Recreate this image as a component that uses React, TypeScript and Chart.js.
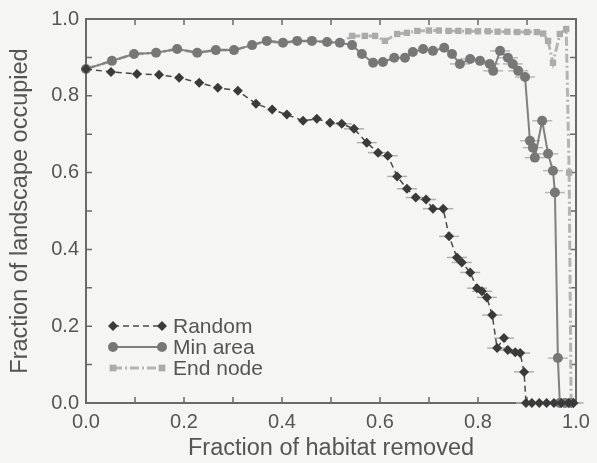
import React, { useEffect, useRef } from 'react';
import { Chart, registerables } from 'chart.js';

Chart.register(...registerables);

const xTitle = 'Fraction of habitat removed';
const yTitle = 'Fraction of landscape occupied';
const seriesLabels = ['Random', 'Min area', 'End node'];
const tickLabels = ['0.0', '0.2', '0.4', '0.6', '0.8', '1.0'];

const randomX = [0, 0.051, 0.104, 0.149, 0.19, 0.231, 0.269, 0.31, 0.347, 0.38, 0.41, 0.443, 0.471, 0.498, 0.522, 0.547, 0.573, 0.596, 0.616, 0.635, 0.655, 0.673, 0.694, 0.708, 0.729, 0.741, 0.757, 0.767, 0.784, 0.798, 0.808, 0.818, 0.829, 0.839, 0.853, 0.861, 0.876, 0.886, 0.894, 0.898, 0.91, 0.925, 0.94, 0.955, 0.97, 0.985, 0.995];
const randomY = [0.87, 0.862, 0.857, 0.855, 0.847, 0.834, 0.821, 0.813, 0.779, 0.764, 0.751, 0.735, 0.74, 0.73, 0.727, 0.714, 0.678, 0.652, 0.644, 0.59, 0.558, 0.535, 0.53, 0.506, 0.506, 0.434, 0.379, 0.366, 0.34, 0.299, 0.291, 0.275, 0.229, 0.143, 0.169, 0.138, 0.132, 0.13, 0.081, 0, 0, 0, 0, 0, 0, 0, 0];

const minAreaX = [0, 0.053, 0.098, 0.143, 0.186, 0.227, 0.265, 0.302, 0.339, 0.369, 0.402, 0.431, 0.461, 0.492, 0.518, 0.543, 0.563, 0.586, 0.606, 0.629, 0.651, 0.667, 0.688, 0.708, 0.731, 0.747, 0.763, 0.784, 0.804, 0.824, 0.831, 0.845, 0.861, 0.871, 0.882, 0.896, 0.906, 0.912, 0.916, 0.931, 0.943, 0.953, 0.957, 0.963, 0.967, 0.978, 0.99];
const minAreaY = [0.87, 0.891, 0.909, 0.912, 0.922, 0.912, 0.919, 0.919, 0.932, 0.943, 0.938, 0.943, 0.943, 0.94, 0.938, 0.932, 0.909, 0.886, 0.888, 0.899, 0.899, 0.914, 0.922, 0.917, 0.925, 0.909, 0.883, 0.896, 0.891, 0.883, 0.865, 0.917, 0.899, 0.883, 0.865, 0.849, 0.683, 0.665, 0.639, 0.735, 0.649, 0.605, 0.548, 0.117, 0, 0, 0];

const endNodeX = [0, 0.053, 0.098, 0.143, 0.186, 0.227, 0.265, 0.302, 0.339, 0.369, 0.402, 0.431, 0.461, 0.492, 0.518, 0.543, 0.569, 0.59, 0.61, 0.635, 0.655, 0.676, 0.7, 0.72, 0.74, 0.76, 0.78, 0.8, 0.82, 0.84, 0.86, 0.88, 0.9, 0.92, 0.933, 0.943, 0.953, 0.967, 0.98, 0.986, 0.99];
const endNodeY = [0.87, 0.891, 0.909, 0.912, 0.922, 0.912, 0.919, 0.919, 0.932, 0.943, 0.938, 0.943, 0.943, 0.94, 0.938, 0.956, 0.956, 0.956, 0.943, 0.961, 0.964, 0.969, 0.97, 0.97, 0.969, 0.969, 0.968, 0.968, 0.968, 0.967, 0.967, 0.966, 0.966, 0.966, 0.962, 0.943, 0.886, 0.961, 0.974, 0.6, 0];

const toPts = (xs: number[], ys: number[]) => xs.map((x, i) => ({ x, y: ys[i] }));

const TEXT = '#555';
const FONT = "'Liberation Sans', Arial, sans-serif";

const framePlugin = {
  id: 'frame',
  beforeDatasetsDraw(chart: any) {
    const { ctx, chartArea: a, scales } = chart;
    ctx.save();
    ctx.strokeStyle = '#6a6a6a';
    ctx.lineWidth = 2;
    ctx.strokeRect(a.left, a.top, a.right - a.left, a.bottom - a.top);
    ctx.lineWidth = 1.5;
    const len = 6;
    scales.x.ticks.forEach((t: any) => {
      const px = scales.x.getPixelForValue(t.value);
      ctx.beginPath();
      ctx.moveTo(px, a.bottom); ctx.lineTo(px, a.bottom - len);
      ctx.moveTo(px, a.top); ctx.lineTo(px, a.top + len);
      ctx.stroke();
    });
    scales.y.ticks.forEach((t: any) => {
      const py = scales.y.getPixelForValue(t.value);
      ctx.beginPath();
      ctx.moveTo(a.left, py); ctx.lineTo(a.left + len, py);
      ctx.moveTo(a.right, py); ctx.lineTo(a.right - len, py);
      ctx.stroke();
    });
    ctx.restore();
  },
};

function drawMarker(ctx: CanvasRenderingContext2D, style: string, x: number, y: number, r: number, fill: string) {
  ctx.fillStyle = fill;
  ctx.beginPath();
  if (style === 'rectRot') {
    ctx.moveTo(x, y - r); ctx.lineTo(x + r, y); ctx.lineTo(x, y + r); ctx.lineTo(x - r, y); ctx.closePath();
  } else if (style === 'rect') {
    ctx.rect(x - r * 0.75, y - r * 0.75, r * 1.5, r * 1.5);
  } else {
    ctx.arc(x, y, r, 0, Math.PI * 2);
  }
  ctx.fill();
}

const legendPlugin = {
  id: 'innerLegend',
  afterDraw(chart: any) {
    const { ctx, chartArea: a } = chart;
    ctx.save();
    const x0 = a.left + 27;
    const x1 = a.left + 76;
    const rowOffsets = [77, 56, 35];
    for (let i = 0; i < 3; i++) {
      const ds = chart.data.datasets[i];
      const y = a.bottom - rowOffsets[i];
      ctx.strokeStyle = ds.borderColor;
      ctx.lineWidth = ds.borderWidth;
      ctx.setLineDash(ds.borderDash || []);
      ctx.beginPath(); ctx.moveTo(x0, y); ctx.lineTo(x1, y); ctx.stroke();
      ctx.setLineDash([]);
      drawMarker(ctx, ds.pointStyle, x0, y, ds.pointRadius, ds.pointBackgroundColor);
      drawMarker(ctx, ds.pointStyle, x1, y, ds.pointRadius, ds.pointBackgroundColor);
      ctx.fillStyle = TEXT;
      ctx.font = `21px ${FONT}`;
      ctx.textBaseline = 'middle';
      ctx.textAlign = 'left';
      ctx.fillText(ds.label, a.left + 87, y + 1);
    }
    ctx.restore();
  },
};

const tickCb = (v: any) => {
  const k = Number(v) * 5;
  const r = Math.round(k);
  return Math.abs(k - r) < 1e-6 ? tickLabels[r] : '';
};

export default function App() {
  const ref = useRef<HTMLCanvasElement>(null);
  useEffect(() => {
    if (!ref.current) return;
    const chart = new Chart(ref.current, {
      type: 'line',
      data: {
        datasets: [
          {
            label: seriesLabels[0],
            data: toPts(randomX, randomY),
            borderColor: '#4a4a4a',
            borderWidth: 1.5,
            borderDash: [6, 4],
            pointStyle: 'rectRot',
            pointRadius: 5,
            pointBackgroundColor: '#3a3a3a',
            pointBorderColor: '#3a3a3a',
            pointBorderWidth: 0,
            clip: false,
          } as any,
          {
            label: seriesLabels[1],
            data: toPts(minAreaX, minAreaY),
            borderColor: '#808080',
            borderWidth: 2,
            pointStyle: 'circle',
            pointRadius: 5,
            pointBackgroundColor: '#777',
            pointBorderColor: '#6a6a6a',
            pointBorderWidth: 0,
            clip: false,
          } as any,
          {
            label: seriesLabels[2],
            data: toPts(endNodeX, endNodeY),
            borderColor: '#b4b4b4',
            borderWidth: 3,
            borderDash: [9, 3, 2, 3],
            pointStyle: 'rect',
            pointRadius: 4.5,
            pointBackgroundColor: '#ababab',
            pointBorderColor: '#ababab',
            pointBorderWidth: 0,
            clip: false,
          } as any,
          {
            label: '',
            data: toPts(randomX.slice(14), randomY.slice(14)),
            showLine: false,
            pointStyle: 'line',
            pointRadius: 10,
            pointBorderColor: '#b0b0b0',
            pointBorderWidth: 1.5,
            clip: false,
          } as any,
          {
            label: '',
            data: toPts(minAreaX.slice(26), minAreaY.slice(26)),
            showLine: false,
            pointStyle: 'line',
            pointRadius: 10,
            pointBorderColor: '#b8b8b8',
            pointBorderWidth: 1.5,
            clip: false,
          } as any,
        ],
      },
      options: {
        animation: false,
        responsive: true,
        maintainAspectRatio: false,
        layout: { padding: { top: 18, right: 21, left: 0, bottom: 0 } },
        plugins: {
          legend: { display: false },
          tooltip: { enabled: false },
        },
        elements: { line: { tension: 0 } },
        scales: {
          x: {
            type: 'linear',
            min: 0,
            max: 1,
            border: { display: false },
            grid: { display: false, drawTicks: false },
            ticks: { stepSize: 0.1, padding: 7, color: TEXT, font: { size: 20, family: FONT }, callback: tickCb, maxRotation: 0, autoSkip: false },
            title: { display: true, text: xTitle, color: TEXT, font: { size: 23.5, family: FONT }, padding: { top: 0, bottom: 0 } },
            afterFit: (s: any) => { s.height = 60; },
          },
          y: {
            type: 'linear',
            min: 0,
            max: 1,
            border: { display: false },
            grid: { display: false, drawTicks: false },
            ticks: { stepSize: 0.1, padding: 7, color: TEXT, font: { size: 20, family: FONT }, callback: tickCb, autoSkip: false },
            title: { display: true, text: yTitle, color: TEXT, font: { size: 23.5, family: FONT }, padding: { top: 6, bottom: 0 } },
            afterFit: (s: any) => { s.width = 86; },
          },
        },
      } as any,
      plugins: [framePlugin, legendPlugin],
    });
    return () => chart.destroy();
  }, []);
  return (
    <div style={{ position: 'fixed', left: 0, top: 0, width: 597, height: 463, background: '#f5f5f3' }}>
      <canvas ref={ref} />
    </div>
  );
}
